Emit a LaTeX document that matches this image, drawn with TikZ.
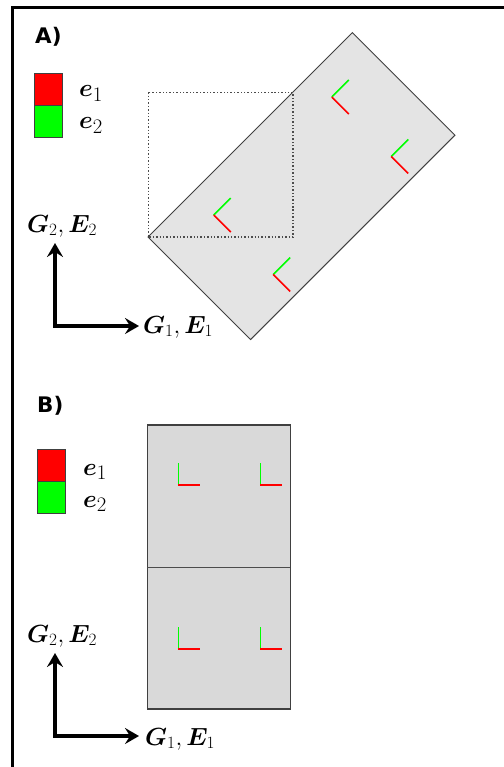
\documentclass[tikz,border=0pt]{standalone}
\usepackage{fontspec}
\setmainfont{DejaVu Sans}
\usepackage{bm}
\usetikzlibrary{arrows.meta}
\definecolor{fillA}{HTML}{E4E4E4}
\definecolor{fillB}{HTML}{D9D9D9}
\definecolor{edge}{HTML}{404040}
\definecolor{mred}{HTML}{FF0000}
\definecolor{mgreen}{HTML}{00FF00}
\begin{document}
\begin{tikzpicture}[x=1bp,y=-1bp,
  paneltag/.style={font=\bfseries\fontsize{21.5}{22}\selectfont, inner sep=0pt, anchor=base west},
  axlbl/.style={font=\fontsize{24}{25}\selectfont, inner sep=0pt, anchor=base west},
  elbl/.style={font=\fontsize{30}{31}\selectfont, inner sep=0pt, anchor=base west},
  legbox/.style={draw=edge, line width=0.8bp, inner sep=0pt, minimum width=28bp, minimum height=32bp, anchor=north west},
  axisarrow/.style={line width=3.5bp, line join=miter, {Stealth[length=14bp,width=16bp,inset=5bp]}-{Stealth[length=14bp,width=16bp,inset=5bp]}},
  cellA/.style={fill=fillA, draw=edge, line width=1bp},
  cellB/.style={fill=fillB, draw=edge, line width=1.2bp},
  greenarm/.style={draw=mgreen, line width=1.6bp},
  redarm/.style={draw=mred, line width=1.6bp},
  dotsq/.style={draw=gray!60!black, dotted, line width=1.4bp}
]
\useasboundingbox (0,0) rectangle (504,767);
% outer frame (clipped at right and bottom)
\draw[line width=3bp] (12,768) -- (12,7.7) -- (505,7.7);

% ---------------- Panel A ----------------
\node[paneltag] (tagA) at (35,44) {A)};
\node[legbox, fill=mred] (rA) at (33.5,72.7) {};
\node[legbox, fill=mgreen] (gA) at (33.5,104.5) {};
\node[elbl] (e1A) at (79,96.7) {$\bm{e}_1$};
\node[elbl] (e2A) at (79,128.3) {$\bm{e}_2$};

\coordinate (LA) at (148,237);
\begin{scope}[shift={(LA)}, x={(0.7071bp,0.7071bp)}, y={(0.7071bp,-0.7071bp)}]
  \draw[cellA] (0,0) -- (289,0) -- (289,145) -- (0,145) -- cycle;
  \foreach \u/\v in {62/31, 62/115, 229/31, 229/115}{
    \draw[greenarm] (\u,\v) -- (\u+24,\v);
    \draw[redarm] (\u,\v) -- (\u,\v+24);
  }
\end{scope}
\draw[dotsq] (148.3,92.3) rectangle (293,237);

\coordinate (oA) at (55,326);
\coordinate (yA) at (55,243);
\coordinate (xA) at (139,326);
\draw[axisarrow] (yA) -- (oA) -- (xA);
\node[axlbl] (g2A) at (27,232) {$\bm{G}_2,\bm{E}_2$};
\node[axlbl] (g1A) at (143,333) {$\bm{G}_1,\bm{E}_1$};

% ---------------- Panel B ----------------
\node[paneltag] (tagB) at (37,412.5) {B)};
\node[legbox, fill=mred] (rB) at (37,448.5) {};
\node[legbox, fill=mgreen] (gB) at (37,480.5) {};
\node[elbl] (e1B) at (83,475) {$\bm{e}_1$};
\node[elbl] (e2B) at (83,507) {$\bm{e}_2$};

\coordinate (LB) at (147.3,709);
\begin{scope}[shift={(LB)}, x={(0bp,1bp)}, y={(1bp,0bp)}]
  \draw[cellB] (0,0) -- (284,0) -- (284,143) -- (0,143) -- cycle;
  \draw[gray!60!black, line width=1bp] (142,0) -- (142,143);
  \foreach \u/\v in {60/31, 60/113, 224/31, 224/113}{
    \draw[greenarm] (\u,\v) -- (\u+22,\v);
    \draw[redarm] (\u,\v) -- (\u,\v+22);
  }
\end{scope}

\coordinate (oB) at (55,736);
\coordinate (yB) at (55,653);
\coordinate (xB) at (139,736);
\draw[axisarrow] (yB) -- (oB) -- (xB);
\node[axlbl] (g2B) at (27,642) {$\bm{G}_2,\bm{E}_2$};
\node[axlbl] (g1B) at (145,745) {$\bm{G}_1,\bm{E}_1$};
\end{tikzpicture}
\end{document}
